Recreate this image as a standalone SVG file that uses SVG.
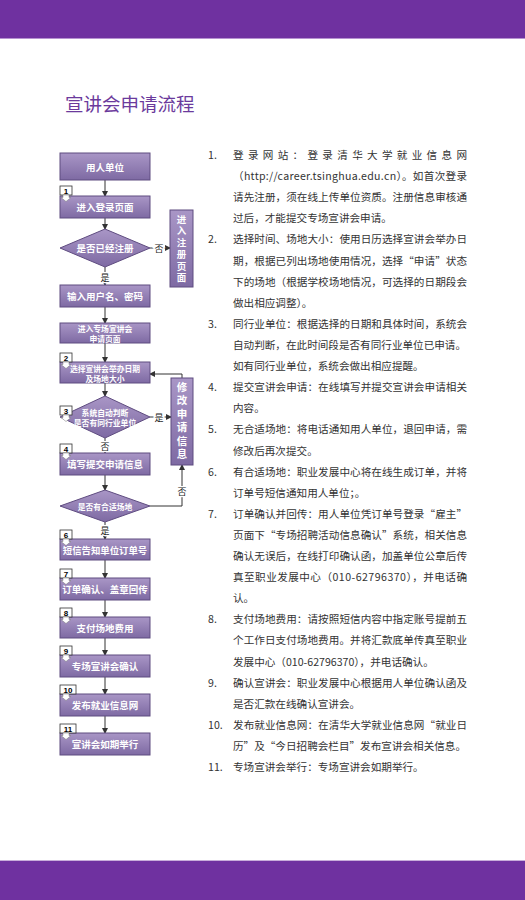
<svg xmlns="http://www.w3.org/2000/svg" width="525" height="900" viewBox="0 0 525 900">
<defs>
<linearGradient id="g" x1="0" y1="0" x2="0" y2="1">
<stop offset="0" stop-color="#a996c6"/>
<stop offset="1" stop-color="#7e6aa3"/>
</linearGradient>
<marker id="ah" markerWidth="6" markerHeight="6" refX="5" refY="3" orient="auto" markerUnits="userSpaceOnUse">
<path d="M0,0 L6,3 L0,6 Z" fill="#333"/>
</marker>
<g id="tag">
<rect x="0" y="0" width="12" height="9" fill="#fff" stroke="#333" stroke-width="0.8"/>
<path d="M3,9 L3,11.5 L1,11.5 L6,15.5 L11,11.5 L9,11.5 L9,9 Z" fill="#fff" stroke="#777" stroke-width="0.5"/>
</g>
</defs>
<style>
.box{fill:url(#g);stroke:#5f4c80;stroke-width:1}
.bt{font-family:"Noto Sans CJK SC",sans-serif;font-weight:bold;fill:#fff;text-anchor:middle;dominant-baseline:central}
.vt{font-family:"Noto Sans CJK SC",sans-serif;font-weight:bold;fill:#fff;text-anchor:middle;writing-mode:vertical-rl}
.ln{stroke:#333;stroke-width:1;fill:none}
.lb{font-family:"Noto Sans CJK SC",sans-serif;font-size:9px;fill:#222;text-anchor:middle;dominant-baseline:central;stroke:#fff;stroke-width:3;paint-order:stroke}
.tn{font-family:"Liberation Sans",Arial,sans-serif;font-weight:bold;font-size:8px;fill:#000;text-anchor:middle}
.tx{font-family:"Noto Sans CJK SC",sans-serif;font-size:10.6px;fill:#333}
</style>
<rect x="0" y="0" width="525" height="38" fill="#6f31a0"/>
<rect x="0" y="38" width="525" height="1" fill="#b592d0"/>
<rect x="0" y="861" width="525" height="39" fill="#6f31a0"/>
<rect x="0" y="860" width="525" height="1" fill="#c8aedb"/>
<text x="65" y="111" font-family="Noto Sans CJK SC,sans-serif" font-size="18.5" fill="#6b3a9c">宣讲会申请流程</text>

<g id="connectors">
<line class="ln" x1="105" y1="180" x2="105" y2="196" marker-end="url(#ah)"/>
<line class="ln" x1="105" y1="218" x2="105" y2="229" marker-end="url(#ah)"/>
<line class="ln" x1="150" y1="248" x2="170" y2="248" marker-end="url(#ah)"/>
<line class="ln" x1="105" y1="267" x2="105" y2="285" marker-end="url(#ah)"/>
<line class="ln" x1="105" y1="307" x2="105" y2="323" marker-end="url(#ah)"/>
<line class="ln" x1="105" y1="343" x2="105" y2="362" marker-end="url(#ah)"/>
<line class="ln" x1="105" y1="383" x2="105" y2="396" marker-end="url(#ah)"/>
<line class="ln" x1="150" y1="417" x2="171" y2="417" marker-end="url(#ah)"/>
<line class="ln" x1="105" y1="438" x2="105" y2="453" marker-end="url(#ah)"/>
<line class="ln" x1="105" y1="475" x2="105" y2="490" marker-end="url(#ah)"/>
<polyline class="ln" points="150,506 182,506 182,465" marker-end="url(#ah)"/>
<polyline class="ln" points="182,378 182,374 150,374" marker-end="url(#ah)"/>
<line class="ln" x1="105" y1="522" x2="105" y2="539" marker-end="url(#ah)"/>
<line class="ln" x1="105" y1="560" x2="105" y2="578" marker-end="url(#ah)"/>
<line class="ln" x1="105" y1="600" x2="105" y2="617" marker-end="url(#ah)"/>
<line class="ln" x1="105" y1="638" x2="105" y2="655" marker-end="url(#ah)"/>
<line class="ln" x1="105" y1="677" x2="105" y2="694" marker-end="url(#ah)"/>
<line class="ln" x1="105" y1="716" x2="105" y2="733" marker-end="url(#ah)"/>
<text class="lb" x="159" y="248">否</text>
<text class="lb" x="105" y="277">是</text>
<text class="lb" x="159" y="417">是</text>
<text class="lb" x="105" y="446">否</text>
<text class="lb" x="182" y="491">否</text>
<text class="lb" x="105" y="530">是</text>
</g>

<g id="n0"><rect class="box" x="60" y="153" width="90" height="27"/><text class="bt" x="105" y="166.5" font-size="9.5">用人单位</text></g>
<g id="n1"><rect class="box" x="60" y="196" width="90" height="22"/><text class="bt" x="105" y="207" font-size="9.5">进入登录页面</text><use href="#tag" x="60" y="186"/><text class="tn" x="66" y="193.5">1</text></g>
<g id="n2"><polygon class="box" points="60,248 105,229 150,248 105,267"/><text class="bt" x="105" y="248" font-size="9.5">是否已经注册</text></g>
<g id="n3"><rect class="box" x="170" y="210" width="23" height="77"/><text class="vt" x="181.5" y="249.5" font-size="9.5" letter-spacing="2.2">进入注册页面</text></g>
<g id="n4"><rect class="box" x="60" y="285" width="90" height="22"/><text class="bt" x="105" y="296" font-size="9.5">输入用户名、密码</text></g>
<g id="n5"><rect class="box" x="60" y="323" width="90" height="20"/><text class="bt" x="105" y="328.5" font-size="7.8">进入专场宣讲会</text><text class="bt" x="105" y="338.5" font-size="7.8">申请页面</text></g>
<g id="n6"><rect class="box" x="60" y="362" width="90" height="21"/><text class="bt" x="105" y="368" font-size="7.8">选择宣讲会举办日期</text><text class="bt" x="105" y="378" font-size="7.8">及场地大小</text><use href="#tag" x="60" y="353"/><text class="tn" x="66" y="360.5">2</text></g>
<g id="n7"><polygon class="box" points="60,417 105,396 150,417 105,438"/><text class="bt" x="105" y="412" font-size="7.8">系统自动判断</text><text class="bt" x="105" y="422" font-size="7.8">是否有同行业单位</text><use href="#tag" x="60" y="406"/><text class="tn" x="66" y="413.5">3</text></g>
<g id="n8"><rect class="box" x="171" y="378" width="22" height="87"/><text class="vt" x="182" y="422" font-size="10.5" letter-spacing="2.9">修改申请信息</text></g>
<g id="n9"><rect class="box" x="60" y="453" width="90" height="22"/><text class="bt" x="105" y="464" font-size="9.5">填写提交申请信息</text><use href="#tag" x="60" y="444"/><text class="tn" x="66" y="451.5">4</text></g>
<g id="n10"><polygon class="box" points="60,506 105,490 150,506 105,522"/><text class="bt" x="105" y="506" font-size="7.8">是否有合适场地</text></g>
<g id="n11"><rect class="box" x="60" y="539" width="90" height="21"/><text class="bt" x="105" y="549.5" font-size="9.4">短信告知单位订单号</text><use href="#tag" x="60" y="530"/><text class="tn" x="66" y="537.5">6</text></g>
<g id="n12"><rect class="box" x="60" y="578" width="90" height="22"/><text class="bt" x="105" y="589" font-size="9.5">订单确认、盖章回传</text><use href="#tag" x="60" y="569"/><text class="tn" x="66" y="576.5">7</text></g>
<g id="n13"><rect class="box" x="60" y="617" width="90" height="21"/><text class="bt" x="105" y="627.5" font-size="9.5">支付场地费用</text><use href="#tag" x="60" y="608"/><text class="tn" x="66" y="615.5">8</text></g>
<g id="n14"><rect class="box" x="60" y="655" width="90" height="22"/><text class="bt" x="105" y="666" font-size="9.5">专场宣讲会确认</text><use href="#tag" x="60" y="646"/><text class="tn" x="66" y="653.5">9</text></g>
<g id="n15"><rect class="box" x="60" y="694" width="90" height="22"/><text class="bt" x="105" y="705" font-size="9.5">发布就业信息网</text><rect x="60" y="685" width="16" height="9" fill="#fff" stroke="#333" stroke-width="0.8"/><path d="M63,694 L63,696.5 L61,696.5 L66,700.5 L71,696.5 L69,696.5 L69,694 Z" fill="#fff" stroke="#777" stroke-width="0.5"/><text class="tn" x="68" y="692.5">10</text></g>
<g id="n16"><rect class="box" x="60" y="733" width="90" height="22"/><text class="bt" x="105" y="744" font-size="9.5">宣讲会如期举行</text><rect x="60" y="724" width="16" height="9" fill="#fff" stroke="#333" stroke-width="0.8"/><path d="M63,733 L63,735.5 L61,735.5 L66,739.5 L71,735.5 L69,735.5 L69,733 Z" fill="#fff" stroke="#777" stroke-width="0.5"/><text class="tn" x="68" y="731.5">11</text></g>

<g id="notes" class="tx">
<text x="208" y="159">1.</text>
<text x="233" y="159" textLength="234" lengthAdjust="spacing">登录网站：登录清华大学就业信息网</text>
<text x="233" y="180" textLength="234" lengthAdjust="spacing">（http://career.tsinghua.edu.cn）。如首次登录</text>
<text x="233" y="201" textLength="234" lengthAdjust="spacing">请先注册，须在线上传单位资质。注册信息审核通</text>
<text x="233" y="222">过后，才能提交专场宣讲会申请。</text>
<text x="208" y="243">2.</text>
<text x="233" y="243" textLength="234" lengthAdjust="spacing">选择时间、场地大小：使用日历选择宣讲会举办日</text>
<text x="233" y="264.5" textLength="234" lengthAdjust="spacing">期，根据已列出场地使用情况，选择“申请”状态</text>
<text x="233" y="285.5" textLength="234" lengthAdjust="spacing">下的场地（根据学校场地情况，可选择的日期段会</text>
<text x="233" y="306.5">做出相应调整）。</text>
<text x="208" y="328">3.</text>
<text x="233" y="328" textLength="234" lengthAdjust="spacing">同行业单位：根据选择的日期和具体时间，系统会</text>
<text x="233" y="349">自动判断，在此时间段是否有同行业单位已申请。</text>
<text x="233" y="370">如有同行业单位，系统会做出相应提醒。</text>
<text x="208" y="391">4.</text>
<text x="233" y="391" textLength="234" lengthAdjust="spacing">提交宣讲会申请：在线填写并提交宣讲会申请相关</text>
<text x="233" y="412">内容。</text>
<text x="208" y="433">5.</text>
<text x="233" y="433" textLength="234" lengthAdjust="spacing">无合适场地：将电话通知用人单位，退回申请，需</text>
<text x="233" y="454.5">修改后再次提交。</text>
<text x="208" y="475.5">6.</text>
<text x="233" y="475.5" textLength="234" lengthAdjust="spacing">有合适场地：职业发展中心将在线生成订单，并将</text>
<text x="233" y="496.5">订单号短信通知用人单位；。</text>
<text x="208" y="517.5">7.</text>
<text x="233" y="517.5" textLength="234" lengthAdjust="spacing">订单确认并回传：用人单位凭订单号登录“雇主”</text>
<text x="233" y="538.5" textLength="234" lengthAdjust="spacing">页面下“专场招聘活动信息确认”系统，相关信息</text>
<text x="233" y="560" textLength="234" lengthAdjust="spacing">确认无误后，在线打印确认函，加盖单位公章后传</text>
<text x="233" y="581" textLength="234" lengthAdjust="spacing">真至职业发展中心（010-62796370），并电话确</text>
<text x="233" y="602">认。</text>
<text x="208" y="623">8.</text>
<text x="233" y="623" textLength="234" lengthAdjust="spacing">支付场地费用：请按照短信内容中指定账号提前五</text>
<text x="233" y="644" textLength="234" lengthAdjust="spacing">个工作日支付场地费用。并将汇款底单传真至职业</text>
<text x="233" y="665.5">发展中心（010-62796370），并电话确认。</text>
<text x="208" y="686.5">9.</text>
<text x="233" y="686.5" textLength="234" lengthAdjust="spacing">确认宣讲会：职业发展中心根据用人单位确认函及</text>
<text x="233" y="707.5">是否汇款在线确认宣讲会。</text>
<text x="208" y="728.5">10.</text>
<text x="233" y="728.5" textLength="234" lengthAdjust="spacing">发布就业信息网：在清华大学就业信息网“就业日</text>
<text x="233" y="749.5">历”及“今日招聘会栏目”发布宣讲会相关信息。</text>
<text x="208" y="771">11.</text>
<text x="233" y="771">专场宣讲会举行：专场宣讲会如期举行。</text>
</g>
</svg>
